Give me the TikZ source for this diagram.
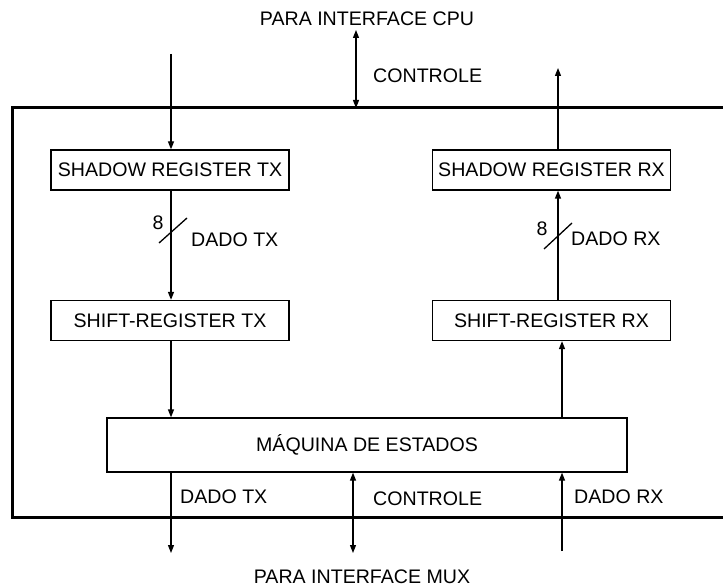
\documentclass[tikz,border=0pt]{standalone}
\usepackage{fontspec}
\setmainfont{Liberation Sans}
\usetikzlibrary{arrows.meta}

\begin{document}
\begin{tikzpicture}[x=1pt,y=-1pt,
	every node/.style={font=\fontsize{19.6}{22}\selectfont, inner sep=0pt},
	reg/.style={draw, line width=1.3pt, minimum width=238pt, minimum height=40pt},
	wire/.style={line width=1.3pt},
	>={Triangle[length=8pt,width=6pt]}]
	\useasboundingbox (0,0) rectangle (723,588);
	\draw [line width=3pt] (730,108) -- (12,108) -- (12,517) -- (730,517);
	\node (cpu) at (367,19) {PARA INTERFACE CPU};
	\node (mux) at (362,577) {PARA INTERFACE MUX};
	\node [reg] (shtx) at (170,170) {SHADOW REGISTER TX};
	\node [reg] (shrx) at (551.5,170) {SHADOW REGISTER RX};
	\node [reg] (sftx) at (170,320.5) {SHIFT-REGISTER TX};
	\node [reg] (sfrx) at (551.5,320.5) {SHIFT-REGISTER RX};
	\node [draw, line width=1.3pt, minimum width=520pt, minimum height=54pt] (maq) at (367,445) {MÁQUINA DE ESTADOS};
	\coordinate (txin) at (171,54);
	\coordinate (rxout) at (558,68);
	\coordinate (ctltop) at (356,30);
	\coordinate (ctlframe) at (356,108);
	\coordinate (txout) at (171,553);
	\coordinate (ctlbot) at (353,553);
	\coordinate (rxin) at (562,551);
	\coordinate (txbus) at (173,231);
	\coordinate (rxbus) at (558,236);
	\draw [wire,->] (txin) -- (shtx.north -| txin);
	\draw [wire,->] (shrx.north -| rxout) -- (rxout);
	\draw [wire,<->] (ctltop) -- (ctlframe);
	\draw [wire,->] (shtx.south -| txin) -- (sftx.north -| txin);
	\draw [wire,->] (sfrx.north -| rxout) -- (shrx.south -| rxout);
	\draw [wire,->] (sftx.south -| txin) -- (maq.north -| txin);
	\draw [wire,->] (maq.north -| rxin) -- (sfrx.south -| rxin);
	\draw [wire,->] (maq.south -| txout) -- (txout);
	\draw [wire,<->] (maq.south -| ctlbot) -- (ctlbot);
	\draw [wire,->] (rxin) -- (maq.south -| rxin);
	\draw [wire] (txbus) ++(-14,12) -- ++(28,-25);
	\draw [wire] (rxbus) ++(-14,13) -- ++(28,-26);
	\node (w8tx) at (158,223) {8};
	\node (w8rx) at (542,229) {8};
	\node [anchor=west] (ctlcpu) at (373,76) {CONTROLE};
	\node [anchor=west] (dtx) at (191,240) {DADO TX};
	\node [anchor=west] (drx) at (571,239) {DADO RX};
	\node [anchor=west] (dtxout) at (180,497) {DADO TX};
	\node [anchor=west] (ctlmux) at (373,499) {CONTROLE};
	\node [anchor=west] (drxin) at (574,497) {DADO RX};
\end{tikzpicture}
\end{document}
